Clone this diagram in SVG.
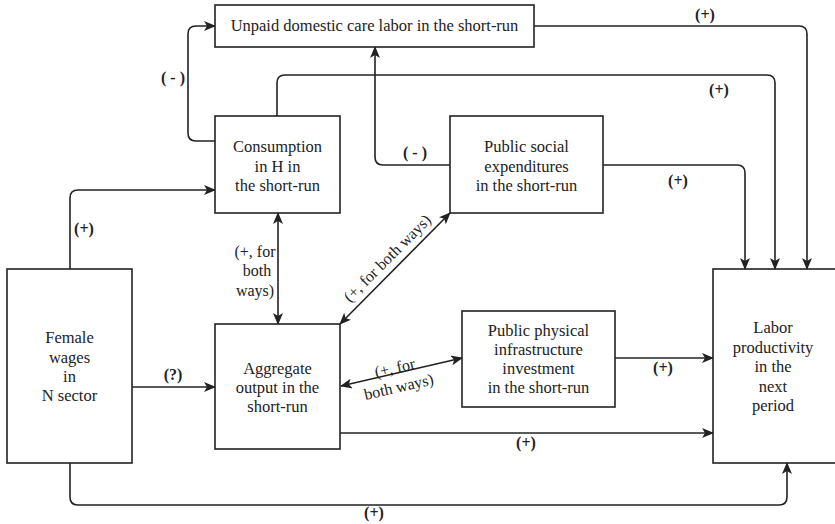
<svg xmlns="http://www.w3.org/2000/svg" width="835" height="524" viewBox="0 0 835 524">
<style>
.box{fill:#fff;stroke:#222;stroke-width:1.6}
.t{font-family:"Liberation Serif","DejaVu Serif","Times New Roman",serif;font-size:16.5px;fill:#222;text-anchor:middle}
.lb{font-family:"Liberation Serif","DejaVu Serif","Times New Roman",serif;font-size:16px;fill:#222;text-anchor:middle;font-weight:bold}
.ln{font-family:"Liberation Serif","DejaVu Serif","Times New Roman",serif;font-size:16px;fill:#222;text-anchor:middle}
.c{fill:none;stroke:#222;stroke-width:1.6}
</style>
<defs>
<marker id="ar" viewBox="0 0 12 10" refX="11" refY="5" markerWidth="12" markerHeight="10" markerUnits="userSpaceOnUse" orient="auto-start-reverse">
<path d="M0,0 L12,5 L0,10 L3,5 Z" fill="#222"/>
</marker>
</defs>
<rect width="835" height="524" fill="#fff"/>
<g id="connectors">
<path class="c" d="M534,26 H799 Q807,26 807,34 V269" marker-end="url(#ar)"/>
<path class="c" d="M277,116 V83 Q277,75 285,75 H767 Q775,75 775,83 V269" marker-end="url(#ar)"/>
<path class="c" d="M603,165 H737 Q745,165 745,173 V269" marker-end="url(#ar)"/>
<path class="c" d="M215,141 H196 Q188,141 188,133 V34 Q188,26 196,26 H215" marker-end="url(#ar)"/>
<path class="c" d="M450,165 H383 Q375,165 375,157 V47" marker-end="url(#ar)"/>
<path class="c" d="M70,269 V198 Q70,190 78,190 H215" marker-end="url(#ar)"/>
<path class="c" d="M132,387 H215" marker-end="url(#ar)"/>
<path class="c" d="M278,213 V324" marker-start="url(#ar)" marker-end="url(#ar)"/>
<path class="c" d="M340,324 L450,213" marker-start="url(#ar)" marker-end="url(#ar)"/>
<path class="c" d="M341,386 L462,358" marker-start="url(#ar)" marker-end="url(#ar)"/>
<path class="c" d="M615,358 H713" marker-end="url(#ar)"/>
<path class="c" d="M340,433 H713" marker-end="url(#ar)"/>
<path class="c" d="M70,463 V497 Q70,505 78,505 H779 Q787,505 787,497 V463" marker-end="url(#ar)"/>
<text class="lb" x="705" y="20">(+)</text>
<text class="lb" x="719" y="95">(+)</text>
<text class="lb" x="678" y="186">(+)</text>
<text class="lb" x="173" y="83">( - )</text>
<text class="lb" x="415" y="158">( - )</text>
<text class="lb" x="84" y="234">(+)</text>
<text class="lb" x="173" y="380">(?)</text>
<text class="lb" x="663" y="373">(+)</text>
<text class="lb" x="526" y="448">(+)</text>
<text class="lb" x="374" y="518">(+)</text>
<text class="ln" x="255" y="257">(+, for</text>
<text class="ln" x="257" y="276">both</text>
<text class="ln" x="255" y="296">ways)</text>
<text class="ln" transform="translate(391,262) rotate(-45)" x="0" y="0">(+, for both ways)</text>
<text class="ln" transform="translate(396,373) rotate(-13)" x="0" y="0">(+, for</text>
<text class="ln" transform="translate(400,392) rotate(-13)" x="0" y="0">both ways)</text>
</g>
<g id="unpaid">
<rect class="box" x="215" y="5" width="319" height="42"/>
<text class="t" x="374.5" y="31">Unpaid domestic care labor in the short-run</text>
</g>
<g id="consumption">
<rect class="box" x="215" y="116" width="125" height="97"/>
<text class="t" x="277.5" y="152">Consumption</text>
<text class="t" x="277.5" y="172">in H in</text>
<text class="t" x="277.5" y="191">the short-run</text>
</g>
<g id="social">
<rect class="box" x="450" y="116" width="153" height="97"/>
<text class="t" x="526.5" y="152">Public social</text>
<text class="t" x="526.5" y="172">expenditures</text>
<text class="t" x="526.5" y="191">in the short-run</text>
</g>
<g id="female">
<rect class="box" x="7" y="269" width="125" height="194"/>
<text class="t" x="69.5" y="343">Female</text>
<text class="t" x="69.5" y="363">wages</text>
<text class="t" x="69.5" y="382">in</text>
<text class="t" x="69.5" y="401">N sector</text>
</g>
<g id="aggregate">
<rect class="box" x="215" y="324" width="125" height="125"/>
<text class="t" x="277.5" y="374">Aggregate</text>
<text class="t" x="277.5" y="393">output in the</text>
<text class="t" x="277.5" y="412">short-run</text>
</g>
<g id="physical">
<rect class="box" x="462" y="311" width="153" height="96"/>
<text class="t" x="538.5" y="336">Public physical</text>
<text class="t" x="538.5" y="355">infrastructure</text>
<text class="t" x="538.5" y="374">investment</text>
<text class="t" x="538.5" y="393">in the short-run</text>
</g>
<g id="labor">
<rect class="box" x="713" y="269" width="126" height="194"/>
<text class="t" x="773" y="333">Labor</text>
<text class="t" x="773" y="353">productivity</text>
<text class="t" x="773" y="372">in the</text>
<text class="t" x="773" y="392">next</text>
<text class="t" x="773" y="411">period</text>
</g>
</svg>
